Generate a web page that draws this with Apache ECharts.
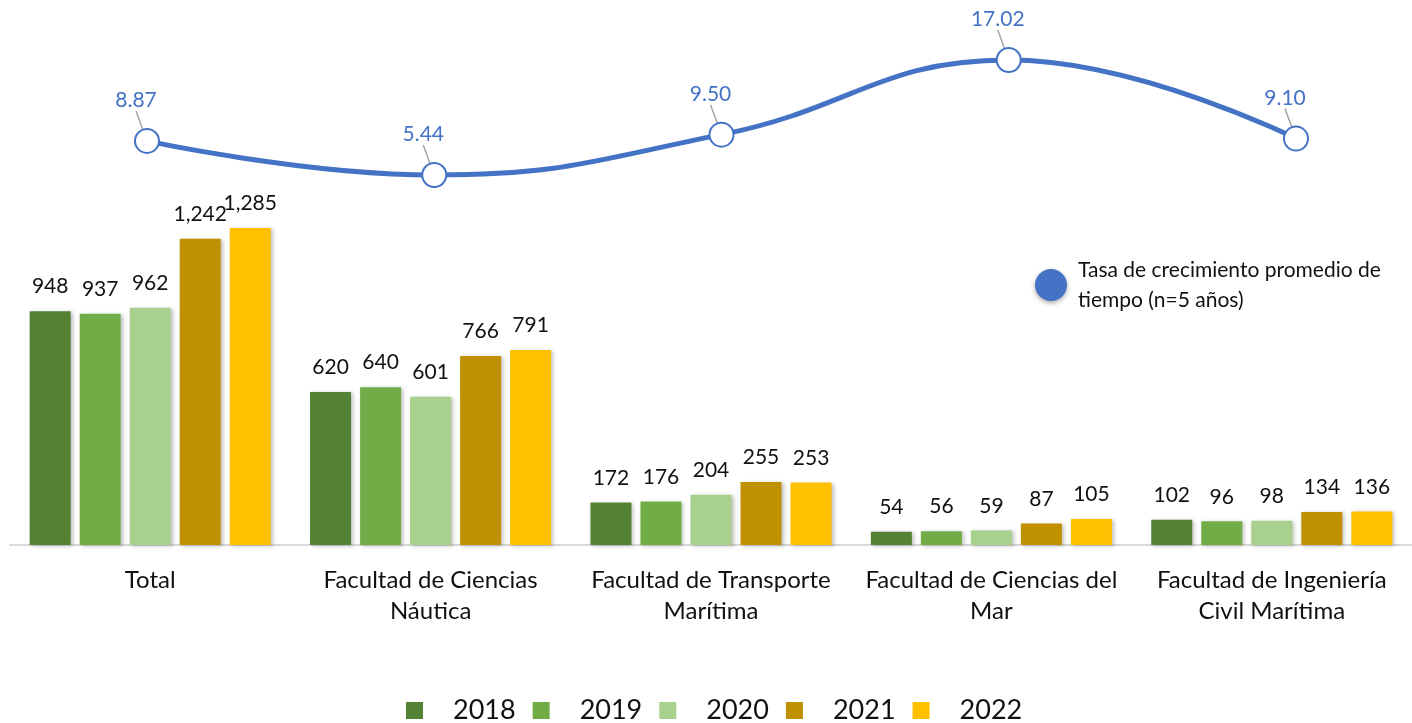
<!DOCTYPE html>
<html>
<head>
<meta charset="utf-8">
<script src="https://cdn.jsdelivr.net/npm/echarts@6/dist/echarts.min.js"></script>
<style>
  html, body { margin: 0; padding: 0; background: #fff; }
  #chart { width: 1412px; height: 723px; }
</style>
</head>
<body>
<div id="chart"></div>
<script>
// datos
const categories = [
  'Total',
  'Facultad de Ciencias\nNáutica',
  'Facultad de Transporte\nMarítima',
  'Facultad de Ciencias del\nMar',
  'Facultad de Ingeniería\nCivil Marítima'
];
const years = ['2018', '2019', '2020', '2021', '2022'];
const values2018 = [948, 620, 172, 54, 102];
const values2019 = [937, 640, 176, 56, 96];
const values2020 = [962, 601, 204, 59, 98];
const values2021 = [1242, 766, 255, 87, 134];
const values2022 = [1285, 791, 253, 105, 136];
const growthName = 'Tasa de crecimiento promedio de tiempo (n=5 años)';
const growthRate = [8.87, 5.44, 9.50, 17.02, 9.10];

const barValues = [values2018, values2019, values2020, values2021, values2022];
const barColors = ['#548235', '#70AD47', '#A9D18E', '#BF9000', '#FFC000'];
const blue = '#4472C4';
const font = 'Lato';

const chart = echarts.init(document.getElementById('chart'));

const barSeries = years.map((y, i) => ({
  name: y,
  type: 'bar',
  xAxisIndex: 0,
  yAxisIndex: 0,
  data: barValues[i],
  barWidth: 41,
  barGap: '22%',
  itemStyle: {
    color: barColors[i],
    shadowBlur: 4,
    shadowColor: 'rgba(0,0,0,0.25)',
    shadowOffsetX: 2,
    shadowOffsetY: 1
  },
  label: {
    show: true,
    position: 'top',
    distance: 14,
    fontFamily: font,
    fontSize: 21,
    color: '#111',
    formatter: p => p.value.toLocaleString('en-US')
  }
}));

const option = {
  animation: false,
  grid: [
    { left: 10, width: 1404, top: 27, bottom: 178 },
    { left: 147, right: 116, top: 27, bottom: 178 }
  ],
  legend: [
    {
      data: years,
      left: 401,
      top: 692,
      icon: 'rect',
      itemWidth: 17,
      itemHeight: 17,
      itemGap: 17,
      textStyle: {
        fontFamily: font,
        fontSize: 27,
        color: '#111',
        padding: [0, 0, 0, 25]
      }
    },
    {
      data: [growthName],
      left: 1030,
      top: 250,
      icon: 'circle',
      itemWidth: 38,
      itemHeight: 32,
      symbolKeepAspect: false,
      itemStyle: {
        color: blue,
        borderWidth: 0,
        shadowBlur: 5,
        shadowColor: 'rgba(0,0,0,0.35)',
        shadowOffsetY: 2
      },
      textStyle: {
        fontFamily: font,
        fontSize: 21,
        lineHeight: 30,
        color: '#111',
        padding: [0, 0, 0, 3]
      },
      formatter: () => 'Tasa de crecimiento promedio de\ntiempo (n=5 años)'
    }
  ],
  xAxis: [
    {
      type: 'category',
      gridIndex: 0,
      data: categories,
      axisLine: { lineStyle: { color: '#D9D9D9', width: 2 } },
      axisTick: { show: false },
      axisLabel: {
        interval: 0,
        margin: 20,
        fontFamily: font,
        fontSize: 24,
        lineHeight: 31,
        color: '#111'
      }
    },
    {
      type: 'category',
      gridIndex: 1,
      data: categories,
      boundaryGap: false,
      show: false
    }
  ],
  yAxis: [
    { type: 'value', gridIndex: 0, min: 0, max: 2100, show: false },
    { type: 'value', gridIndex: 1, min: -31.82, max: 20.34, show: false }
  ],
  series: [
    ...barSeries,
    {
      name: growthName,
      type: 'line',
      xAxisIndex: 1,
      yAxisIndex: 1,
      data: growthRate,
      smooth: 0.45,
      symbol: 'circle',
      symbolSize: 24,
      z: 5,
      lineStyle: { color: blue, width: 5 },
      itemStyle: { color: '#fff', borderColor: blue, borderWidth: 2 },
      label: {
        show: true,
        position: 'top',
        distance: 0,
        fontFamily: font,
        fontSize: 21,
        color: blue,
        formatter: p => p.value.toFixed(2)
      },
      labelLayout: { dx: -11, dy: -17 },
      labelLine: {
        show: true,
        lineStyle: { color: '#A6A6A6', width: 1.5 }
      }
    }
  ]
};

chart.setOption(option);
</script>
</body>
</html>
